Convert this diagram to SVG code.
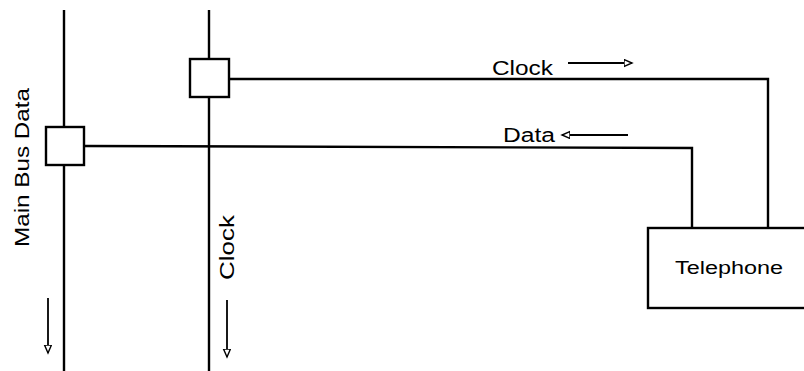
<svg xmlns="http://www.w3.org/2000/svg" width="804" height="371" viewBox="0 0 804 371">
<defs>
<style>
.ln{stroke:#000;stroke-width:2.4;fill:none}
.bx{stroke:#000;stroke-width:2.4;fill:#fff}
.ar{stroke:#000;stroke-width:1.8;fill:none}
.t{font-family:"Liberation Sans",Arial,sans-serif;fill:#000}
</style>
<marker id="ah" markerWidth="10" markerHeight="10" refX="8" refY="4" orient="auto" markerUnits="userSpaceOnUse">
<path d="M0,0.5 L8,4 L0,7.5 Z" fill="#fff" stroke="#000" stroke-width="1.4"/>
</marker>
</defs>
<rect width="804" height="371" fill="#fff"/>
<g id="connectors">
<line class="ln" x1="64" y1="10" x2="64" y2="371"/>
<line class="ln" x1="209" y1="10" x2="209" y2="371"/>
<polyline class="ln" points="229,79 768,79 768,228"/>
<polyline class="ln" points="84,146 692,148 692,228"/>
<line class="ar" x1="568" y1="63" x2="632" y2="63" marker-end="url(#ah)"/>
<line class="ar" x1="628" y1="135" x2="562" y2="135" marker-end="url(#ah)"/>
<line class="ar" x1="48" y1="298" x2="48" y2="353" marker-end="url(#ah)"/>
<line class="ar" x1="227" y1="300" x2="227" y2="357" marker-end="url(#ah)"/>
</g>
<g id="main-bus-tap">
<rect class="bx" x="46" y="127" width="38" height="38"/>
</g>
<g id="clock-bus-tap">
<rect class="bx" x="190" y="59" width="39" height="38"/>
</g>
<g id="telephone">
<rect class="bx" x="648" y="228" width="170" height="80"/>
<text class="t" x="675" y="274" font-size="18" textLength="108" lengthAdjust="spacingAndGlyphs">Telephone</text>
</g>
<g id="labels">
<text class="t" x="492" y="75" font-size="20" textLength="61" lengthAdjust="spacingAndGlyphs">Clock</text>
<text class="t" x="503" y="142" font-size="20" textLength="52" lengthAdjust="spacingAndGlyphs">Data</text>
<text class="t" transform="translate(29,247) rotate(-90)" font-size="20" textLength="159" lengthAdjust="spacingAndGlyphs">Main Bus Data</text>
<text class="t" transform="translate(234,280) rotate(-90)" font-size="20" textLength="65" lengthAdjust="spacingAndGlyphs">Clock</text>
</g>
</svg>
